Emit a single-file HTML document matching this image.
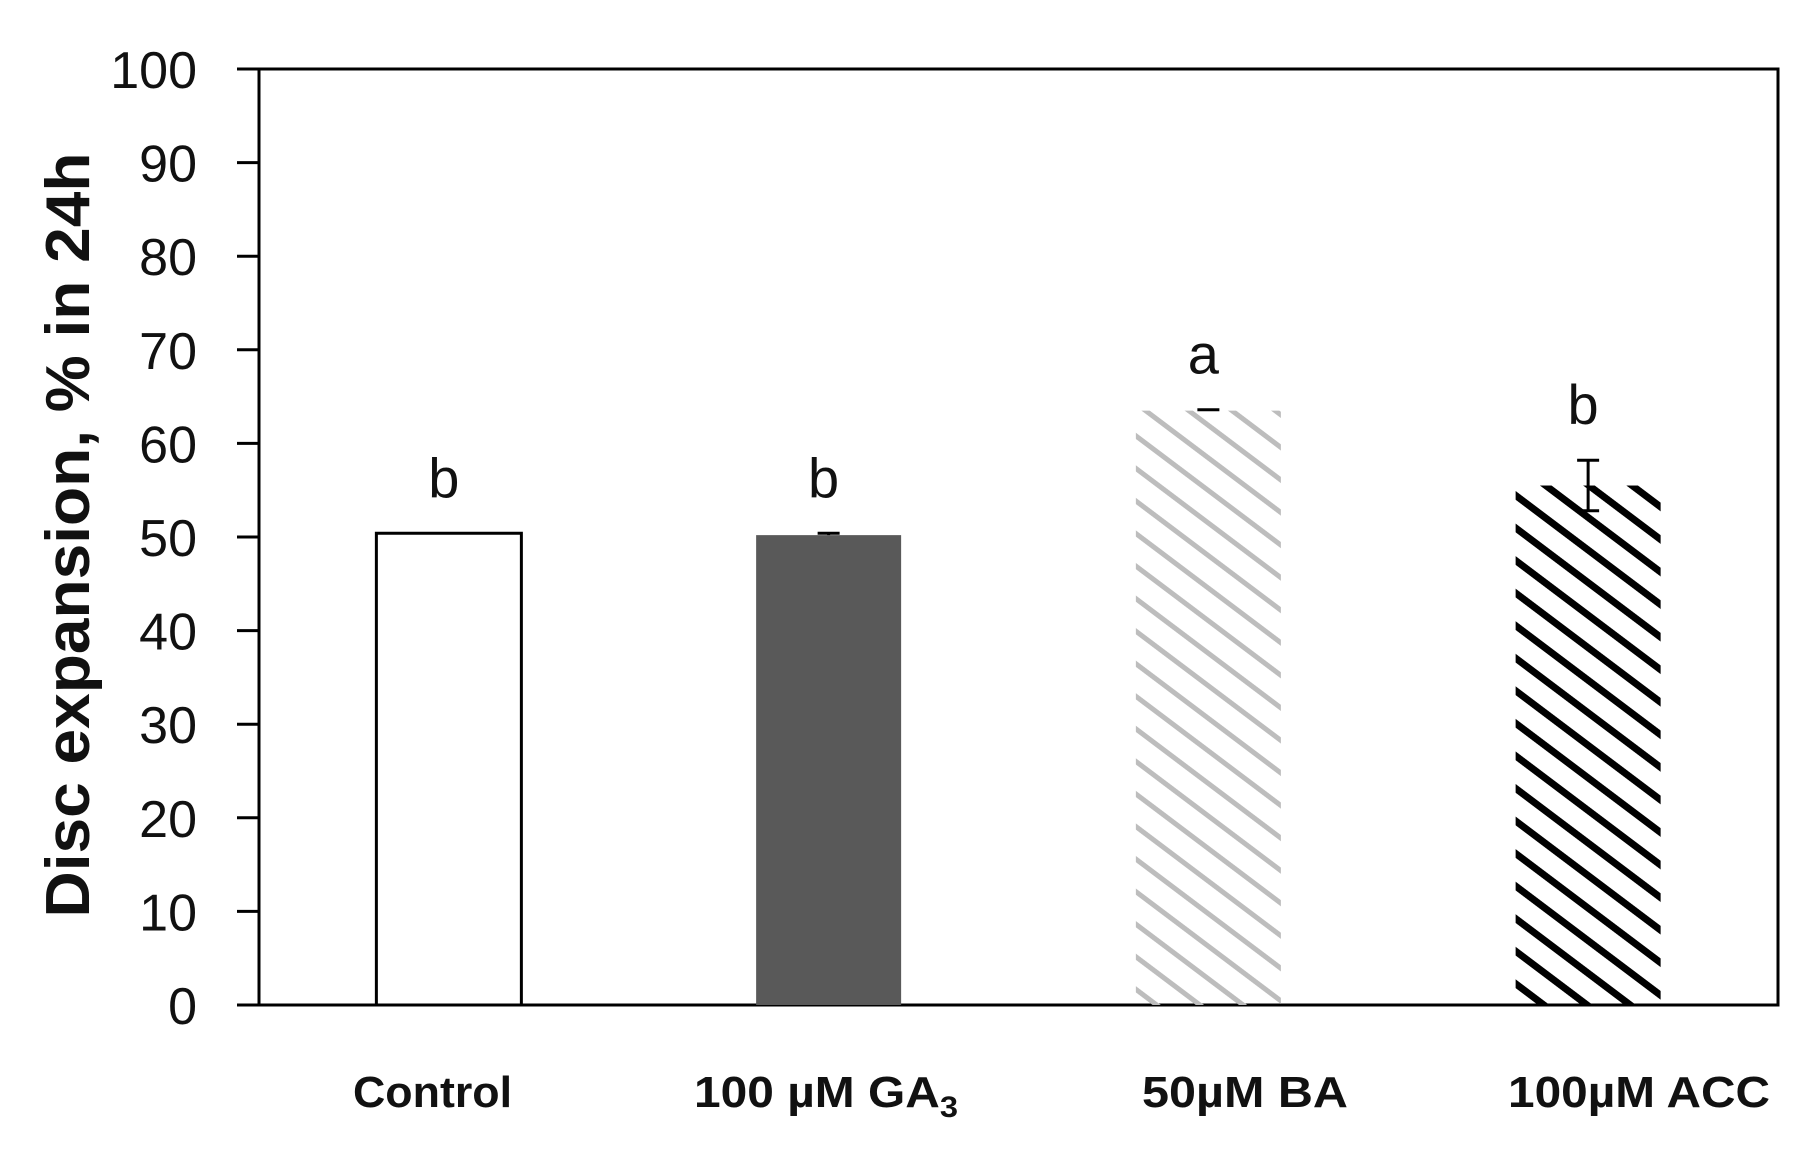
<!DOCTYPE html>
<html><head><meta charset="utf-8"><style>
html,body{margin:0;padding:0;background:#fff;}
svg{display:block;}
</style></head><body>
<svg id="chart" width="1817" height="1168" viewBox="0 0 1817 1168" xmlns="http://www.w3.org/2000/svg">
<defs>
<pattern id="hatchGray" patternUnits="userSpaceOnUse" width="26" height="26" patternTransform="rotate(37)">
<rect x="0" y="0" width="26" height="5" fill="#bdbdbd"/>
</pattern>
<pattern id="hatchBlack" patternUnits="userSpaceOnUse" width="26" height="26" patternTransform="rotate(37)">
<rect x="0" y="0" width="26" height="7" fill="#000"/>
</pattern>
</defs>
<g id="plot"></g>
</svg>
<script>
const categories = ["Control", "100 µM GA3", "50µM BA", "100µM ACC"];
const values = [50.4, 50.2, 63.5, 55.5];
const errors = [0, 0.2, 0.1, 2.7];
const letters = ["b", "b", "a", "b"];
const yTicks = [0, 10, 20, 30, 40, 50, 60, 70, 80, 90, 100];

const NS = "http://www.w3.org/2000/svg";
const L = 259, R = 1778, T = 69, B = 1005;
const band = (R - L) / categories.length;
const yScale = v => B - (v / 100) * (B - T);
const xCenter = i => L + band * (i + 0.5);
const barW = 145;
const fills = ["#fff", "#595959", "url(#hatchGray)", "url(#hatchBlack)"];
const g = document.getElementById("plot");
function mk(tag, attrs, parent) {
  const e = document.createElementNS(NS, tag);
  for (const k in attrs) e.setAttribute(k, attrs[k]);
  (parent || g).appendChild(e);
  return e;
}

const frame = mk("rect", {x: L, y: T, width: R - L, height: B - T, fill: "none", stroke: "#000", "stroke-width": 3});



yTicks.forEach(t => {
  const y = yScale(t);
  const tk = mk("line", {x1: 237, x2: L, y1: y, y2: y, stroke: "#000", "stroke-width": 3});
  
  
  const tx = mk("text", {x: 197, y: y + 19, "text-anchor": "end", "font-family": "Liberation Sans, sans-serif", "font-size": 52, fill: "#111"});
  tx.textContent = t;
  
  
});

categories.forEach((c, i) => {
  const cx = xCenter(i);
  const y = yScale(values[i]);
  const bar = mk("rect", {x: cx - barW / 2, y: y, width: barW, height: B - y, fill: fills[i], stroke: i < 2 ? "#000" : "none", "stroke-width": i === 0 ? 3 : 0});
  
  
  if (errors[i] > 0) {
    const ey = yScale(values[i] + errors[i]);
    let d = `M${cx},${y} L${cx},${ey} M${cx - 11},${ey} L${cx + 11},${ey}`;
    if (i === 3) {
      const ly = yScale(values[i] - errors[i]);
      d += ` M${cx - 11},${ly} L${cx + 11},${ly} M${cx},${y} L${cx},${ly}`;
    }
    const eb = mk("path", {d: d, stroke: "#000", "stroke-width": 3, fill: "none"});
    
    
  }
  const top = yScale(values[i] + errors[i]);
  const lt = mk("text", {x: cx - 5, y: top - 36, "text-anchor": "middle", "font-family": "Liberation Sans, sans-serif", "font-size": 56, fill: "#111"});
  lt.textContent = letters[i];
  
  
});

const xl = [
  {x: 353, w: 159},
  {x: 694, w: 264},
  {x: 1142, w: 206},
  {x: 1508, w: 262}
];
categories.forEach((c, i) => {
  const t = mk("text", {x: xl[i].x, y: 1107, "font-family": "Liberation Sans, sans-serif", "font-weight": "bold", "font-size": 44, fill: "#111", textLength: xl[i].w, lengthAdjust: "spacingAndGlyphs"});
  if (c.endsWith("GA3")) {
    t.textContent = "100 µM GA";
    const s = mk("tspan", {"font-size": 30, dy: 10}, t);
    s.textContent = "3";
  } else t.textContent = c;
  
  
});

const yt = mk("text", {x: 0, y: 0, transform: "translate(89,535) rotate(-90)", "text-anchor": "middle", "font-family": "Liberation Sans, sans-serif", "font-weight": "bold", "font-size": 62, fill: "#111", textLength: 765, lengthAdjust: "spacingAndGlyphs"});
yt.textContent = "Disc expansion, % in 24h";


</script>
</body></html>
